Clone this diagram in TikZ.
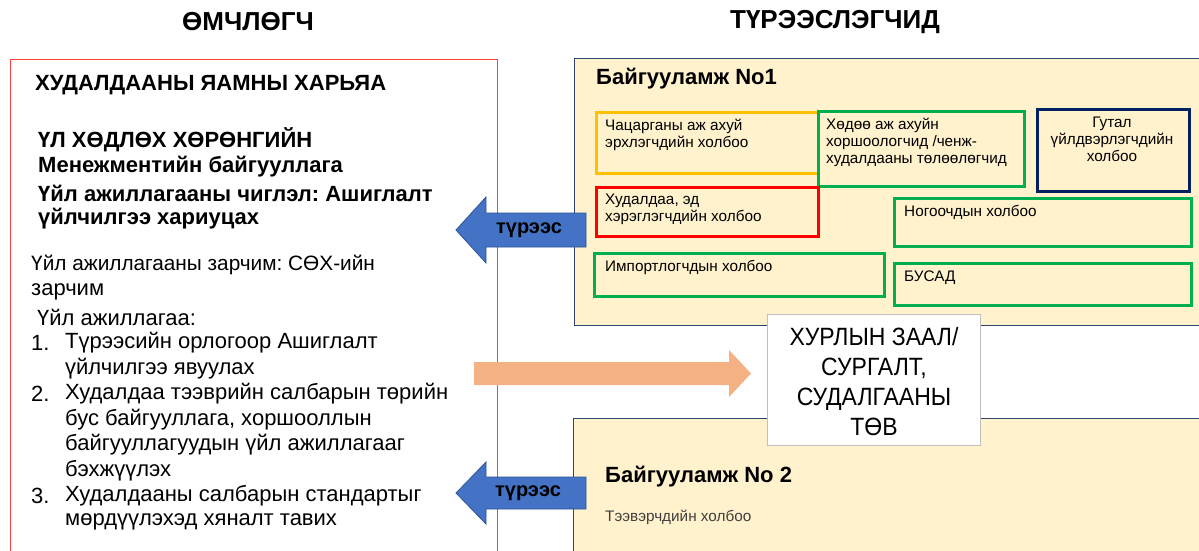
\documentclass[tikz,border=0pt]{standalone}
\usepackage{fontspec}
\setmainfont{Liberation Sans}
\newfontfamily\narrowfont[FakeStretch=0.92]{Liberation Sans}
\frenchspacing
\definecolor{boxfill}{HTML}{FFF2CC}
\definecolor{navyline}{HTML}{2F4270}
\definecolor{gold}{HTML}{FFC000}
\definecolor{grn}{HTML}{00B050}
\definecolor{dnavy}{HTML}{002060}
\definecolor{arrblue}{HTML}{4472C4}
\definecolor{arrblueline}{HTML}{2F5597}
\definecolor{arrorange}{HTML}{F4B183}
\definecolor{redline}{HTML}{FF4040}
\definecolor{hallline}{HTML}{BFBFBF}
\definecolor{darktext}{HTML}{3F3F3F}
\begin{document}
\begin{tikzpicture}[x=1pt,y=-1pt,
  title/.style={font=\bfseries\fontsize{26}{30}\selectfont, anchor=center, inner sep=0pt},
  bay/.style={draw=navyline, fill=boxfill, line width=1pt, anchor=north west, inner sep=0pt},
  member/.style={line width=2.6pt, anchor=north west, inner sep=0pt},
  membertext/.style={anchor=north west, align=left, inner sep=0pt, font=\fontsize{15.3}{17}\selectfont},
  bodytext/.style={anchor=west, inner sep=0pt, font=\fontsize{22}{25}\selectfont},
  boldtext/.style={anchor=west, inner sep=0pt, font=\bfseries\fontsize{22}{26}\selectfont},
  rentarrow/.style={fill=arrblue, draw=arrblueline, line width=0.8pt},
  rentlabel/.style={font=\bfseries\fontsize{20}{22}\selectfont, text=black, inner sep=0pt}
]
\useasboundingbox (0,0) rectangle (1199,550);
\clip (0,0) rectangle (1199,550);
\fill[white] (0,0) rectangle (1199,550);

% titles
\node[title] (ownerT) at (248,22) {ӨМЧЛӨГЧ};
\node[title] (tenantT) at (835,22) {ТҮРЭЭСЛЭГЧИД};

% owner box
\node[draw=redline, line width=1.2pt, anchor=north west, minimum width=487pt, minimum height=520pt, inner sep=0pt] (owner) at (10,59) {};
\node[boldtext] (ministry) at (35,85) {ХУДАЛДААНЫ ЯАМНЫ ХАРЬЯА};
\node[boldtext] (org1) at (38,140) {ҮЛ ХӨДЛӨХ ХӨРӨНГИЙН};
\node[boldtext] (org2) at (38,167) {Менежментийн байгууллага};
\node[boldtext] (org3) at (38,193) {Үйл ажиллагааны чиглэл: Ашиглалт};
\node[boldtext] (org4) at (38,219) {үйлчилгээ хариуцах};
\node[bodytext, font=\fontsize{20.8}{25}\selectfont] (p1) at (31,265) {Үйл ажиллагааны зарчим: СӨХ-ийн};
\node[bodytext] (p2) at (31,291.5) {зарчим};
\node[bodytext] (p3) at (37,317) {Үйл ажиллагаа:};
\node[bodytext] (n1) at (31,343) {1.};
\node[bodytext] (l1a) at (65,343) {Түрээсийн орлогоор Ашиглалт};
\node[bodytext] (l1b) at (65,368.5) {үйлчилгээ явуулах};
\node[bodytext] (n2) at (31,394) {2.};
\node[bodytext] (l2a) at (65,394) {Худалдаа тээврийн салбарын төрийн};
\node[bodytext] (l2b) at (65,419.5) {бус байгууллага, хоршооллын};
\node[bodytext] (l2c) at (65,445) {байгууллагуудын үйл ажиллагааг};
\node[bodytext] (l2d) at (65,470.5) {бэхжүүлэх};
\node[bodytext] (n3) at (31,496) {3.};
\node[bodytext] (l3a) at (65,496) {Худалдааны салбарын стандартыг};
\node[bodytext] (l3b) at (65,521.5) {мөрдүүлэхэд хяналт тавих};

% building 1
\node[bay, minimum width=660pt, minimum height=267pt] (bay1) at (574,58) {};
\node[anchor=west, inner sep=0pt, font=\bfseries\fontsize{22}{24}\selectfont] (bay1T) at (596,79) {Байгууламж No1};
\node[member, draw=gold, minimum width=222pt, minimum height=61pt] (m1) at (595,111) {};
\node[membertext] (m1t) at (605,118) {\strut Чацарганы аж ахуй\\эрхлэгчдийн холбоо};
\node[member, draw=grn, minimum width=206pt, minimum height=75pt] (m2) at (817,110) {};
\node[membertext] (m2t) at (826,117.6) {\strut Хөдөө аж ахуйн\\хоршоологчид /ченж-\\худалдааны төлөөлөгчид};
\node[member, draw=dnavy, minimum width=152pt, minimum height=82pt] (m3) at (1036,108) {};
\node[membertext, align=center, anchor=north] (m3t) at (1112,115.6) {\strut Гутал\\үйлдвэрлэгчдийн\\холбоо};
\node[member, draw=red, minimum width=222pt, minimum height=49pt] (m4) at (595,186) {};
\node[membertext] (m4t) at (605,192.6) {\strut Худалдаа, эд\\хэрэглэгчдийн холбоо};
\node[member, draw=grn, minimum width=297pt, minimum height=48pt] (m5) at (893,197) {};
\node[membertext] (m5t) at (904,204.6) {\strut Ногоочдын холбоо};
\node[member, draw=grn, minimum width=290pt, minimum height=43pt] (m6) at (593,252) {};
\node[membertext] (m6t) at (605,259.6) {\strut Импортлогчдын холбоо};
\node[member, draw=grn, minimum width=297pt, minimum height=42pt] (m7) at (893,262) {};
\node[membertext] (m7t) at (904,269.6) {\strut БУСАД};

% building 2
\node[bay, minimum width=660pt, minimum height=160pt] (bay2) at (573,418) {};
\node[anchor=west, inner sep=0pt, font=\bfseries\fontsize{22}{24}\selectfont] (bay2T) at (605,477) {Байгууламж No 2};
\node[anchor=west, inner sep=0pt, text=darktext, font=\fontsize{15.3}{17}\selectfont] (bay2m) at (605,517) {Тээвэрчдийн холбоо};

% hall
\node[draw=hallline, fill=white, line width=1pt, minimum width=213pt, minimum height=131pt, anchor=north west, inner sep=0pt] (hall) at (767,314) {};
\node[align=center, inner sep=0pt, font=\narrowfont\fontsize{25}{30}\selectfont] (hallT) at ([yshift=-2pt]hall.center) {ХУРЛЫН ЗААЛ/\\СУРГАЛТ,\\СУДАЛГААНЫ\\ТӨВ};

% orange arrow
\fill[arrorange] (474,362) -- (729,362) -- (729,350) -- (751,373.5) -- (729,397) -- (729,385) -- (474,385) -- cycle;

% rent arrows
\draw[rentarrow] (586,213) -- (486,213) -- (486,197) -- (456,230) -- (486,263) -- (486,247) -- (586,247) -- cycle;
\node[rentlabel] (rent1) at (529,230) {түрээс};
\draw[rentarrow] (586,477) -- (486,477) -- (486,462) -- (456,493) -- (486,524) -- (486,509) -- (586,509) -- cycle;
\node[rentlabel] (rent2) at (528,493) {түрээс};
\end{tikzpicture}
\end{document}
